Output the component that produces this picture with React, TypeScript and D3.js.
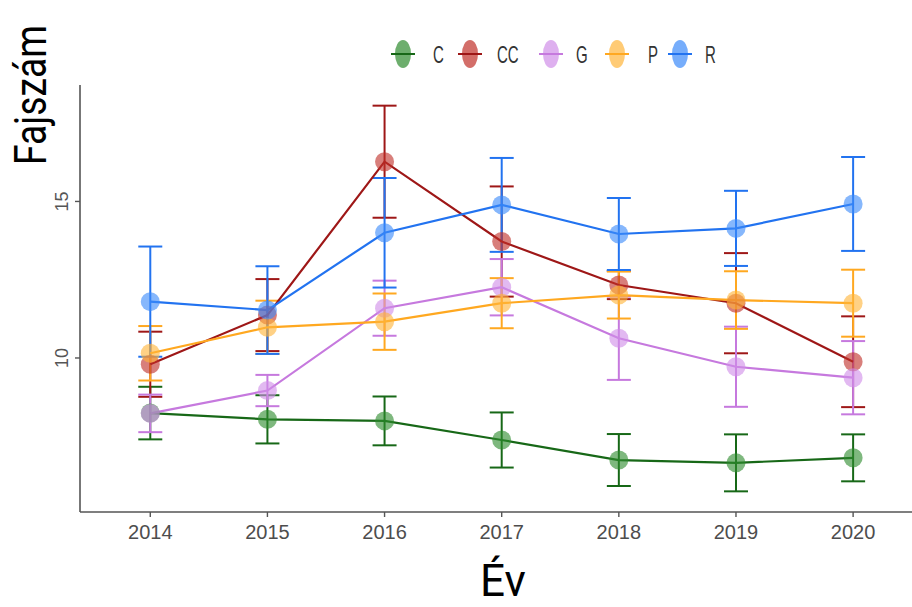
import { scalePoint, scaleLinear, line } from "d3";

// years on the x axis
const years = [2014, 2015, 2016, 2017, 2018, 2019, 2020];
const yTicks = [10, 15];

// series means and half-width of the error bars
const groups = ["C", "CC", "G", "P", "R"];
const cMean = [8.24, 8.04, 7.99, 7.38, 6.74, 6.65, 6.81];
const cErr = [0.84, 0.77, 0.78, 0.88, 0.83, 0.91, 0.75];
const ccMean = [9.8, 11.37, 16.27, 13.72, 12.33, 11.75, 9.88];
const ccErr = [1.04, 1.15, 1.79, 1.76, 0.45, 1.6, 1.45];
const gMean = [8.23, 8.96, 11.59, 12.26, 10.63, 9.72, 9.37];
const gErr = [0.6, 0.5, 0.88, 0.9, 1.33, 1.28, 1.17];
const pMean = [10.15, 10.98, 11.16, 11.75, 12.01, 11.85, 11.75];
const pErr = [0.87, 0.85, 0.9, 0.8, 0.75, 0.92, 1.07];
const rMean = [11.8, 11.53, 14.0, 14.89, 13.96, 14.14, 14.92];
const rErr = [1.76, 1.4, 1.75, 1.5, 1.15, 1.2, 1.5];

const lineColors = ["#176817", "#9e1717", "#c679de", "#ffa820", "#2273f0"];
const pointColors = ["#2f8c2f", "#c0302a", "#d08ee8", "#ffb53a", "#3c8afa"];

const means = [cMean, ccMean, gMean, pMean, rMean];
const errs = [cErr, ccErr, gErr, pErr, rErr];

const W = 912;
const H = 607;

export default function App() {
  const x = scalePoint<number>().domain(years).range([80, 923.4]).padding(0.6);
  const y = scaleLinear().domain([5.08, 18.72]).range([512, 85]);

  const series = groups.map((g, gi) => ({
    key: g,
    stroke: lineColors[gi],
    fill: pointColors[gi],
    pts: years.map((yr, i) => ({ yr, m: means[gi][i], e: errs[gi][i] })),
  }));

  const path = line<{ yr: number; m: number }>()
    .x((d) => x(d.yr) ?? 0)
    .y((d) => y(d.m));

  const cap = 12;
  const legendKeyX = [403, 470, 551, 617, 680];
  const legendTextX = [433, 497, 576, 648, 705];
  const legendY = 54;

  return (
    <div style={{ position: "absolute", left: 0, top: 0 }}>
      <svg width={W} height={H} style={{ display: "block", background: "#fff" }}>
        {/* axes */}
        <line x1={80} x2={80} y1={85} y2={512} stroke="#555" strokeWidth={1.6} />
        <line x1={80} x2={912} y1={512} y2={512} stroke="#555" strokeWidth={1.6} />
        {yTicks.map((t) => (
          <g key={t}>
            <line x1={75} x2={80} y1={y(t)} y2={y(t)} stroke="#555" strokeWidth={1.4} />
            <text
              transform={`translate(68, ${y(t)}) rotate(-90)`}
              textAnchor="middle"
              fontFamily="Liberation Sans, Arial, sans-serif"
              fontSize={18}
              fill="#555"
            >
              {t}
            </text>
          </g>
        ))}
        {years.map((yr) => (
          <g key={yr}>
            <line x1={x(yr)} x2={x(yr)} y1={512} y2={517} stroke="#555" strokeWidth={1.4} />
            <text
              x={x(yr)}
              y={539}
              textAnchor="middle"
              fontFamily="Liberation Sans, Arial, sans-serif"
              fontSize={20}
              fill="#4d4d4d"
            >
              {yr}
            </text>
          </g>
        ))}

        {/* axis titles */}
        <text
          transform="translate(46, 165) rotate(-90)"
          fontFamily="Roboto, sans-serif"
          fontSize={44}
          textLength={140}
          lengthAdjust="spacingAndGlyphs"
          fill="#000"
        >
          Fajszám
        </text>
        <text
          x={503}
          y={596}
          textAnchor="middle"
          fontFamily="Roboto, sans-serif"
          fontSize={44}
          fill="#000"
        >
          Év
        </text>

        {/* error bars */}
        {series.map((s) => (
          <g key={`e-${s.key}`} stroke={s.stroke} strokeWidth={2}>
            {s.pts.map((p) => {
              const cx = x(p.yr) ?? 0;
              return (
                <g key={p.yr}>
                  <line x1={cx} x2={cx} y1={y(p.m + p.e)} y2={y(p.m - p.e)} />
                  <line x1={cx - cap} x2={cx + cap} y1={y(p.m + p.e)} y2={y(p.m + p.e)} />
                  <line x1={cx - cap} x2={cx + cap} y1={y(p.m - p.e)} y2={y(p.m - p.e)} />
                </g>
              );
            })}
          </g>
        ))}

        {/* lines */}
        {series.map((s) => (
          <path key={`l-${s.key}`} d={path(s.pts) ?? ""} fill="none" stroke={s.stroke} strokeWidth={2.2} />
        ))}

        {/* points */}
        {series.map((s) => (
          <g key={`p-${s.key}`}>
            {s.pts.map((p) => (
              <circle key={p.yr} cx={x(p.yr)} cy={y(p.m)} r={9.5} fill={s.fill} fillOpacity={0.62} />
            ))}
          </g>
        ))}

        {/* legend */}
        {series.map((s, i) => (
          <g key={`lg-${s.key}`}>
            <ellipse cx={legendKeyX[i]} cy={legendY} rx={8} ry={14} fill={s.fill} fillOpacity={0.7} />
            <line
              x1={legendKeyX[i] - 12}
              x2={legendKeyX[i] + 12}
              y1={legendY}
              y2={legendY}
              stroke={s.stroke}
              strokeWidth={2}
            />
            <text
              transform={`translate(${legendTextX[i]}, ${legendY}) scale(1, 1.6)`}
              dy="0.36em"
              fontFamily="Liberation Sans, Arial, sans-serif"
              fontSize={15}
              fill="#333"
            >
              {s.key}
            </text>
          </g>
        ))}
      </svg>
    </div>
  );
}
